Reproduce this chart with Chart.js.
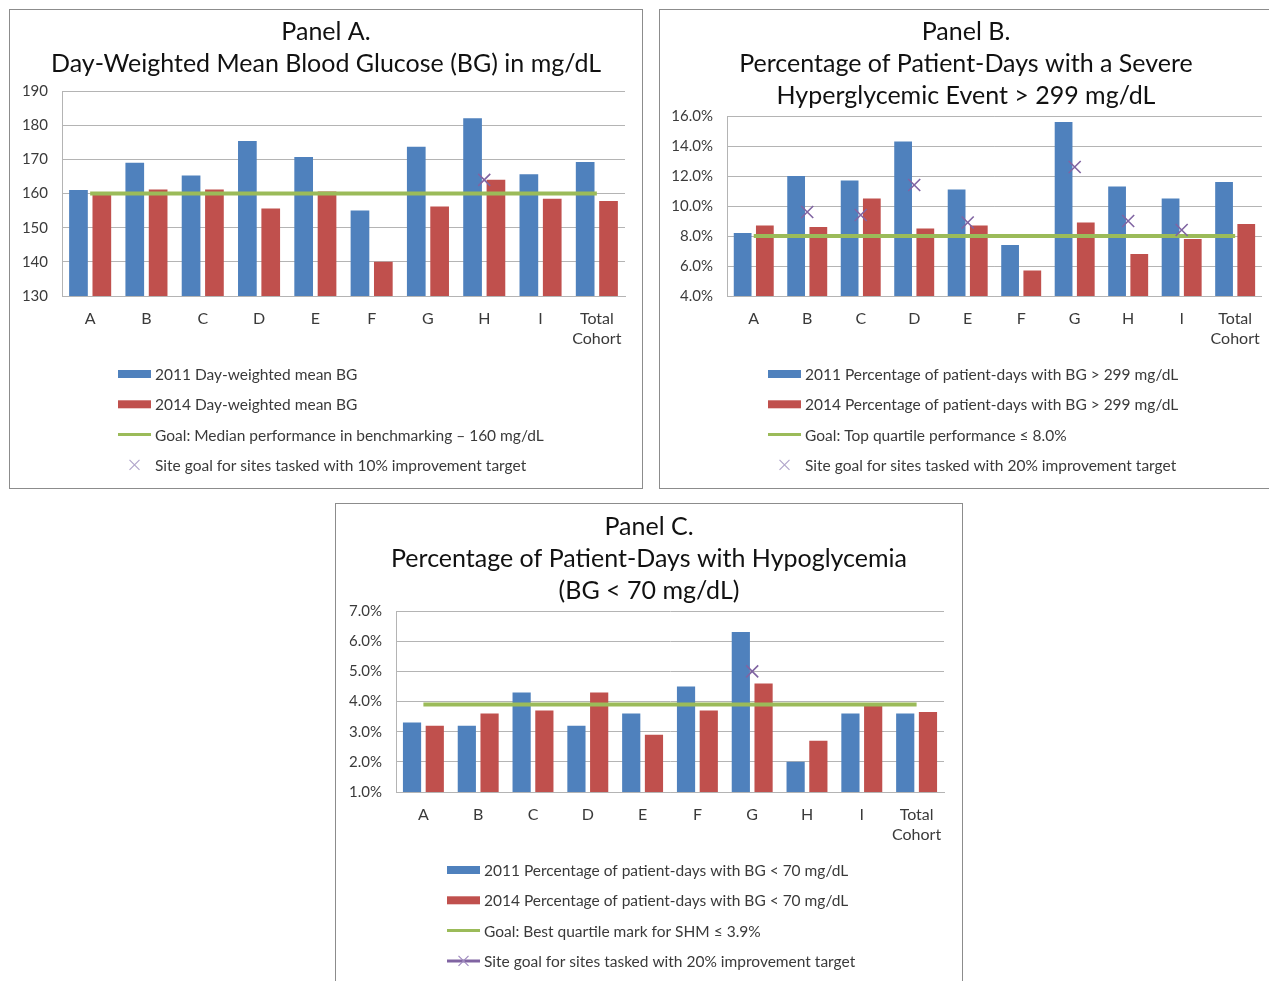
<!DOCTYPE html>
<html>
<head>
<meta charset="utf-8">
<script src="https://cdn.jsdelivr.net/npm/chart.js@4"></script>
<style>
  html, body { margin: 0; padding: 0; background: #fff; }
  body { position: relative; width: 1269px; height: 981px; overflow: hidden; }
  .panel { position: absolute; border: 1px solid #8c8c8c; background: #fff; }
  .panel canvas { display: block; }
  #boxA { left: 9px; top: 9px; width: 632px; height: 478px; }
  #boxB { left: 659px; top: 9px; width: 612px; height: 478px; }
  #boxC { left: 335px; top: 503px; width: 626px; height: 490px; }
</style>
</head>
<body>
<div class="panel" id="boxA"><canvas id="chartA" width="632" height="478"></canvas></div>
<div class="panel" id="boxB"><canvas id="chartB" width="612" height="478"></canvas></div>
<div class="panel" id="boxC"><canvas id="chartC" width="626" height="490"></canvas></div>
<script>
// Sites plus the pooled cohort
const categories = ['A', 'B', 'C', 'D', 'E', 'F', 'G', 'H', 'I', ['Total', 'Cohort']];

// Panel A: day-weighted mean BG (mg/dL)
const meanBG2011 = [161, 169, 165.3, 175.4, 170.7, 155, 173.7, 182, 165.6, 169.2];
const meanBG2014 = [159.8, 161.2, 161.2, 155.6, 160.6, 140, 156.2, 164, 158.5, 157.8];
const meanBGGoal = [160, 160, 160, 160, 160, 160, 160, 160, 160, 160];
const meanBGSiteGoal = [null, null, null, null, null, null, null, 164, null, null];
const meanBGTicks = [130, 140, 150, 160, 170, 180, 190];

// Panel B: % patient-days with BG > 299 mg/dL
const hyper2011 = [8.2, 12.0, 11.7, 14.3, 11.1, 7.4, 15.6, 11.3, 10.5, 11.6];
const hyper2014 = [8.7, 8.6, 10.5, 8.5, 8.7, 5.7, 8.9, 6.8, 7.8, 8.8];
const hyperGoal = [8.0, 8.0, 8.0, 8.0, 8.0, 8.0, 8.0, 8.0, 8.0, 8.0];
const hyperSiteGoal = [null, 9.6, 9.4, 11.4, 8.9, null, 12.6, 9.0, 8.4, null];
const hyperTicks = [4, 6, 8, 10, 12, 14, 16];

// Panel C: % patient-days with BG < 70 mg/dL
const hypo2011 = [3.3, 3.2, 4.3, 3.2, 3.6, 4.5, 6.3, 2.0, 3.6, 3.6];
const hypo2014 = [3.2, 3.6, 3.7, 4.3, 2.9, 3.7, 4.6, 2.7, 3.9, 3.65];
const hypoGoal = [3.9, 3.9, 3.9, 3.9, 3.9, 3.9, 3.9, 3.9, 3.9, 3.9];
const hypoSiteGoal = [null, null, null, null, null, null, 5.0, null, null, null];
const hypoTicks = [1, 2, 3, 4, 5, 6, 7];

const BLUE = '#4F81BD', RED = '#C0504D', GREEN = '#9BBB59', PURPLE = '#8064A2';
const GRID = '#b4b4b4';
const TEXT = '#3a3a3a';
const UI_FONT = 'Lato, "Open Sans", sans-serif';
const TITLE_FONT = 'Lato, "Open Sans", sans-serif';

// Vertical legend list drawn under the plot, one entry per dataset
const listLegend = {
  id: 'listLegend',
  afterDraw(chart, args, opts) {
    const ctx = chart.ctx;
    ctx.save();
    ctx.font = '15.5px ' + UI_FONT;
    ctx.textBaseline = 'middle';
    ctx.textAlign = 'left';
    const ordered = chart.data.datasets.slice().sort((a, b) => a.legendIndex - b.legendIndex);
    ordered.forEach((ds, i) => {
      const y = opts.y + i * opts.spacing;
      const x0 = opts.x, w = 33;
      if (ds.legendKind === 'rect') {
        ctx.fillStyle = ds.backgroundColor;
        ctx.fillRect(x0, y - 4, w, 8);
      } else if (ds.legendKind === 'line') {
        ctx.strokeStyle = ds.borderColor;
        ctx.lineWidth = 3;
        ctx.beginPath(); ctx.moveTo(x0, y); ctx.lineTo(x0 + w, y); ctx.stroke();
      } else if (ds.legendKind === 'cross' || ds.legendKind === 'crossLine') {
        const cx = x0 + w / 2, r = 5;
        if (ds.legendKind === 'crossLine') {
          ctx.strokeStyle = PURPLE;
          ctx.lineWidth = 3;
          ctx.beginPath(); ctx.moveTo(x0, y); ctx.lineTo(x0 + w, y); ctx.stroke();
          ctx.strokeStyle = '#a08cc0';
        } else {
          ctx.strokeStyle = '#b2a6cc';
        }
        ctx.lineWidth = 1.2;
        ctx.beginPath();
        ctx.moveTo(cx - r, y - r); ctx.lineTo(cx + r, y + r);
        ctx.moveTo(cx - r, y + r); ctx.lineTo(cx + r, y - r);
        ctx.stroke();
      }
      ctx.fillStyle = TEXT;
      ctx.fillText(ds.label, x0 + w + 4, y + 1);
    });
    ctx.restore();
  }
};

function makePanel(id, cfg) {
  const datasets = [
    { type: 'bar', label: cfg.labels[0], data: cfg.v2011, backgroundColor: BLUE, order: 3,
      legendKind: 'rect', legendIndex: 0 },
    { type: 'bar', label: cfg.labels[1], data: cfg.v2014, backgroundColor: RED, order: 3,
      legendKind: 'rect', legendIndex: 1 },
    { type: 'line', label: cfg.labels[2], data: cfg.goal, borderColor: GREEN, borderWidth: 4,
      pointRadius: 0, fill: false, order: 2, legendKind: 'line', legendIndex: 2 },
    { type: 'line', label: cfg.labels[3], data: cfg.site, showLine: false, borderColor: PURPLE,
      pointStyle: 'crossRot', pointRadius: 8.5, pointBorderColor: PURPLE, pointBorderWidth: 1.6,
      order: 1, legendKind: cfg.siteKind, legendIndex: 3 }
  ];
  return new Chart(document.getElementById(id), {
    type: 'bar',
    data: { labels: categories, datasets },
    plugins: [listLegend],
    options: {
      responsive: false,
      animation: false,
      events: [],
      datasets: { bar: { categoryPercentage: 0.83, barPercentage: 0.8 } },
      layout: { padding: { left: 0, right: 0, top: 0, bottom: cfg.padBottom } },
      plugins: {
        legend: { display: false },
        tooltip: { enabled: false },
        title: {
          display: true,
          text: cfg.title,
          color: '#111',
          font: { family: TITLE_FONT, size: 25, weight: 'normal', lineHeight: '32px' },
          padding: { top: cfg.titleTop, bottom: cfg.titleBottom }
        },
        listLegend: cfg.legend
      },
      scales: {
        x: {
          grid: { display: false },
          border: { display: true, color: GRID, width: 1 },
          ticks: { color: TEXT, font: { family: UI_FONT, size: 16, lineHeight: '20px' },
                   padding: 5, maxRotation: 0, autoSkip: false },
          afterFit(scale) { scale.height = 60; }
        },
        y: {
          min: cfg.ticks[0], max: cfg.ticks[cfg.ticks.length - 1],
          afterBuildTicks(scale) { scale.ticks = cfg.ticks.map(v => ({ value: v })); },
          grid: { color: GRID, lineWidth: 1, drawTicks: false },
          border: { display: true, color: GRID, width: 1 },
          ticks: { color: TEXT, font: { family: UI_FONT, size: 15 }, padding: 14,
                   callback: cfg.fmt },
          afterFit(scale) { scale.width = cfg.axisWidth; }
        },
        // empty right-hand gutter so the title stays centred on the whole panel
        gutter: {
          type: 'linear', position: 'right', display: true,
          grid: { display: false }, border: { display: false }, ticks: { display: false },
          afterFit(scale) { scale.width = cfg.padRight; }
        }
      }
    }
  });
}

makePanel('chartA', {
  title: ['Panel A.', 'Day-Weighted Mean Blood Glucose (BG) in mg/dL'],
  labels: ['2011 Day-weighted mean BG', '2014 Day-weighted mean BG',
           'Goal: Median performance in benchmarking \u2013 160 mg/dL',
           'Site goal for sites tasked with 10% improvement target'],
  v2011: meanBG2011, v2014: meanBG2014, goal: meanBGGoal, site: meanBGSiteGoal,
  ticks: meanBGTicks, fmt: v => String(v), siteKind: 'cross',
  axisWidth: 52, padRight: 17, padBottom: 132, titleTop: 6, titleBottom: 11,
  legend: { x: 108, y: 364, spacing: 30.3 }
});

makePanel('chartB', {
  title: ['Panel B.', 'Percentage of Patient-Days with a Severe', 'Hyperglycemic Event > 299 mg/dL'],
  labels: ['2011 Percentage of patient-days with BG > 299 mg/dL',
           '2014 Percentage of patient-days with BG > 299 mg/dL',
           'Goal: Top quartile performance \u2264 8.0%',
           'Site goal for sites tasked with 20% improvement target'],
  v2011: hyper2011, v2014: hyper2014, goal: hyperGoal, site: hyperSiteGoal,
  ticks: hyperTicks, fmt: v => v.toFixed(1) + '%', siteKind: 'cross',
  axisWidth: 67, padRight: 10, padBottom: 132, titleTop: 6, titleBottom: 4,
  legend: { x: 108, y: 364, spacing: 30.3 }
});

makePanel('chartC', {
  title: ['Panel C.', 'Percentage of Patient-Days with Hypoglycemia', '(BG < 70 mg/dL)'],
  labels: ['2011 Percentage of patient-days with BG < 70 mg/dL',
           '2014 Percentage of patient-days with BG < 70 mg/dL',
           'Goal: Best quartile mark for SHM \u2264 3.9%',
           'Site goal for sites tasked with 20% improvement target'],
  v2011: hypo2011, v2014: hypo2014, goal: hypoGoal, site: hypoSiteGoal,
  ticks: hypoTicks, fmt: v => v.toFixed(1) + '%', siteKind: 'crossLine',
  axisWidth: 60, padRight: 18, padBottom: 142, titleTop: 7, titleBottom: 4,
  legend: { x: 111, y: 366, spacing: 30.3 }
});
</script>
</body>
</html>
